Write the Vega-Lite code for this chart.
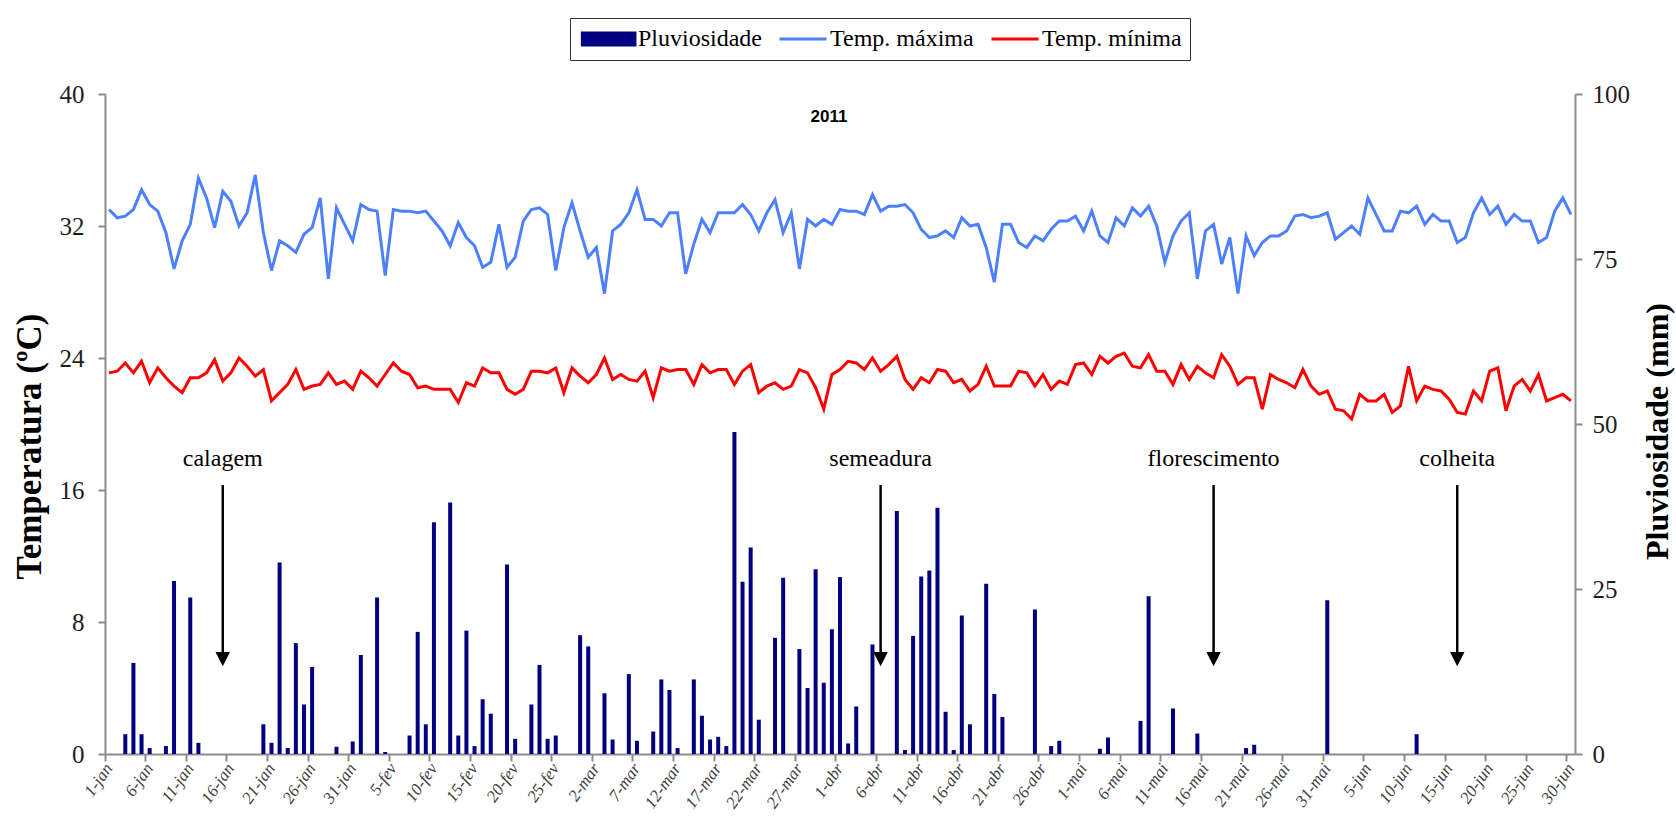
{
  "$schema": "https://vega.github.io/schema/vega-lite/v6.json",
  "width": 1470,
  "height": 660,
  "autosize": {"type": "none"},
  "padding": {"left": 105, "top": 94, "right": 101, "bottom": 62},
  "background": "#ffffff",
  "config": {
    "font": "Liberation Serif",
    "view": {"stroke": null},
    "axis": {
      "grid": false,
      "domainColor": "#8c8c8c",
      "domainWidth": 2,
      "tickColor": "#8c8c8c",
      "tickWidth": 2,
      "tickSize": 7,
      "labelColor": "#1e1e1e",
      "labelFont": "Liberation Serif",
      "titleFont": "Liberation Serif",
      "titleColor": "#000000"
    }
  },
  "title": {
    "text": "2011",
    "font": "Liberation Sans",
    "fontSize": 17,
    "fontWeight": "bold",
    "anchor": "middle",
    "offset": -108,
    "dx": -11,
    "color": "#000000"
  },
  "datasets": {
    "clima": [
      {"dia": "1-jan", "chuva": 0, "tmax": 33.0, "tmin": 23.1},
      {"dia": "2-jan", "chuva": 0, "tmax": 32.5, "tmin": 23.2},
      {"dia": "3-jan", "chuva": 3.0, "tmax": 32.6, "tmin": 23.7},
      {"dia": "4-jan", "chuva": 13.8, "tmax": 33.0, "tmin": 23.1},
      {"dia": "5-jan", "chuva": 3.0, "tmax": 34.2, "tmin": 23.8},
      {"dia": "6-jan", "chuva": 0.9, "tmax": 33.3, "tmin": 22.5},
      {"dia": "7-jan", "chuva": 0, "tmax": 32.9, "tmin": 23.4},
      {"dia": "8-jan", "chuva": 1.2, "tmax": 31.6, "tmin": 22.8},
      {"dia": "9-jan", "chuva": 26.2, "tmax": 29.4, "tmin": 22.3},
      {"dia": "10-jan", "chuva": 0, "tmax": 31.1, "tmin": 21.9},
      {"dia": "11-jan", "chuva": 23.7, "tmax": 32.1, "tmin": 22.8},
      {"dia": "12-jan", "chuva": 1.7, "tmax": 34.9, "tmin": 22.8},
      {"dia": "13-jan", "chuva": 0, "tmax": 33.7, "tmin": 23.1},
      {"dia": "14-jan", "chuva": 0, "tmax": 31.9, "tmin": 23.9},
      {"dia": "15-jan", "chuva": 0, "tmax": 34.1, "tmin": 22.6, "evento": "calagem"},
      {"dia": "16-jan", "chuva": 0, "tmax": 33.5, "tmin": 23.1},
      {"dia": "17-jan", "chuva": 0, "tmax": 32.0, "tmin": 24.0},
      {"dia": "18-jan", "chuva": 0, "tmax": 32.8, "tmin": 23.5},
      {"dia": "19-jan", "chuva": 0, "tmax": 35.1, "tmin": 22.9},
      {"dia": "20-jan", "chuva": 4.5, "tmax": 31.6, "tmin": 23.3},
      {"dia": "21-jan", "chuva": 1.7, "tmax": 29.3, "tmin": 21.4},
      {"dia": "22-jan", "chuva": 29.0, "tmax": 31.1, "tmin": 21.9},
      {"dia": "23-jan", "chuva": 0.9, "tmax": 30.8, "tmin": 22.4},
      {"dia": "24-jan", "chuva": 16.8, "tmax": 30.4, "tmin": 23.3},
      {"dia": "25-jan", "chuva": 7.5, "tmax": 31.5, "tmin": 22.1},
      {"dia": "26-jan", "chuva": 13.2, "tmax": 31.9, "tmin": 22.3},
      {"dia": "27-jan", "chuva": 0, "tmax": 33.7, "tmin": 22.4},
      {"dia": "28-jan", "chuva": 0, "tmax": 28.8, "tmin": 23.1},
      {"dia": "29-jan", "chuva": 1.1, "tmax": 33.1, "tmin": 22.4},
      {"dia": "30-jan", "chuva": 0, "tmax": 32.1, "tmin": 22.6},
      {"dia": "31-jan", "chuva": 1.9, "tmax": 31.1, "tmin": 22.1},
      {"dia": "1-fev", "chuva": 15.0, "tmax": 33.3, "tmin": 23.2},
      {"dia": "2-fev", "chuva": 0, "tmax": 33.0, "tmin": 22.8},
      {"dia": "3-fev", "chuva": 23.7, "tmax": 32.9, "tmin": 22.3},
      {"dia": "4-fev", "chuva": 0.3, "tmax": 29.0, "tmin": 23.0},
      {"dia": "5-fev", "chuva": 0, "tmax": 33.0, "tmin": 23.7},
      {"dia": "6-fev", "chuva": 0, "tmax": 32.9, "tmin": 23.2},
      {"dia": "7-fev", "chuva": 2.8, "tmax": 32.9, "tmin": 23.0},
      {"dia": "8-fev", "chuva": 18.5, "tmax": 32.8, "tmin": 22.2},
      {"dia": "9-fev", "chuva": 4.5, "tmax": 32.9, "tmin": 22.3},
      {"dia": "10-fev", "chuva": 35.1, "tmax": 32.3, "tmin": 22.1},
      {"dia": "11-fev", "chuva": 0, "tmax": 31.7, "tmin": 22.1},
      {"dia": "12-fev", "chuva": 38.1, "tmax": 30.8, "tmin": 22.1},
      {"dia": "13-fev", "chuva": 2.8, "tmax": 32.2, "tmin": 21.3},
      {"dia": "14-fev", "chuva": 18.7, "tmax": 31.3, "tmin": 22.5},
      {"dia": "15-fev", "chuva": 1.2, "tmax": 30.8, "tmin": 22.3},
      {"dia": "16-fev", "chuva": 8.3, "tmax": 29.5, "tmin": 23.4},
      {"dia": "17-fev", "chuva": 6.1, "tmax": 29.8, "tmin": 23.1},
      {"dia": "18-fev", "chuva": 0, "tmax": 32.1, "tmin": 23.1},
      {"dia": "19-fev", "chuva": 28.7, "tmax": 29.5, "tmin": 22.1},
      {"dia": "20-fev", "chuva": 2.3, "tmax": 30.1, "tmin": 21.8},
      {"dia": "21-fev", "chuva": 0, "tmax": 32.3, "tmin": 22.1},
      {"dia": "22-fev", "chuva": 7.5, "tmax": 33.0, "tmin": 23.2},
      {"dia": "23-fev", "chuva": 13.5, "tmax": 33.1, "tmin": 23.2},
      {"dia": "24-fev", "chuva": 2.3, "tmax": 32.7, "tmin": 23.1},
      {"dia": "25-fev", "chuva": 2.8, "tmax": 29.3, "tmin": 23.4},
      {"dia": "26-fev", "chuva": 0, "tmax": 31.9, "tmin": 21.9},
      {"dia": "27-fev", "chuva": 0, "tmax": 33.4, "tmin": 23.4},
      {"dia": "28-fev", "chuva": 18.0, "tmax": 31.7, "tmin": 22.9},
      {"dia": "1-mar", "chuva": 16.3, "tmax": 30.1, "tmin": 22.5},
      {"dia": "2-mar", "chuva": 0, "tmax": 30.7, "tmin": 23.0},
      {"dia": "3-mar", "chuva": 9.2, "tmax": 27.9, "tmin": 24.0},
      {"dia": "4-mar", "chuva": 2.2, "tmax": 31.7, "tmin": 22.7},
      {"dia": "5-mar", "chuva": 0, "tmax": 32.1, "tmin": 23.0},
      {"dia": "6-mar", "chuva": 12.1, "tmax": 32.8, "tmin": 22.7},
      {"dia": "7-mar", "chuva": 2.0, "tmax": 34.2, "tmin": 22.6},
      {"dia": "8-mar", "chuva": 0, "tmax": 32.4, "tmin": 23.2},
      {"dia": "9-mar", "chuva": 3.4, "tmax": 32.4, "tmin": 21.6},
      {"dia": "10-mar", "chuva": 11.3, "tmax": 32.0, "tmin": 23.4},
      {"dia": "11-mar", "chuva": 9.7, "tmax": 32.8, "tmin": 23.2},
      {"dia": "12-mar", "chuva": 0.9, "tmax": 32.8, "tmin": 23.3},
      {"dia": "13-mar", "chuva": 0, "tmax": 29.1, "tmin": 23.3},
      {"dia": "14-mar", "chuva": 11.3, "tmax": 30.9, "tmin": 22.4},
      {"dia": "15-mar", "chuva": 5.8, "tmax": 32.4, "tmin": 23.6},
      {"dia": "16-mar", "chuva": 2.2, "tmax": 31.6, "tmin": 23.1},
      {"dia": "17-mar", "chuva": 2.6, "tmax": 32.8, "tmin": 23.3},
      {"dia": "18-mar", "chuva": 1.2, "tmax": 32.8, "tmin": 23.3},
      {"dia": "19-mar", "chuva": 48.8, "tmax": 32.8, "tmin": 22.4},
      {"dia": "20-mar", "chuva": 26.1, "tmax": 33.3, "tmin": 23.2},
      {"dia": "21-mar", "chuva": 31.3, "tmax": 32.7, "tmin": 23.6},
      {"dia": "22-mar", "chuva": 5.2, "tmax": 31.7, "tmin": 21.9},
      {"dia": "23-mar", "chuva": 0, "tmax": 32.8, "tmin": 22.3},
      {"dia": "24-mar", "chuva": 17.6, "tmax": 33.6, "tmin": 22.5},
      {"dia": "25-mar", "chuva": 26.7, "tmax": 31.6, "tmin": 22.1},
      {"dia": "26-mar", "chuva": 0, "tmax": 32.8, "tmin": 22.3},
      {"dia": "27-mar", "chuva": 15.9, "tmax": 29.4, "tmin": 23.3},
      {"dia": "28-mar", "chuva": 10.0, "tmax": 32.4, "tmin": 23.1},
      {"dia": "29-mar", "chuva": 28.0, "tmax": 32.0, "tmin": 22.2},
      {"dia": "30-mar", "chuva": 10.8, "tmax": 32.4, "tmin": 20.9},
      {"dia": "31-mar", "chuva": 18.9, "tmax": 32.1, "tmin": 23.0},
      {"dia": "1-abr", "chuva": 26.8, "tmax": 33.0, "tmin": 23.3},
      {"dia": "2-abr", "chuva": 1.6, "tmax": 32.9, "tmin": 23.8},
      {"dia": "3-abr", "chuva": 7.2, "tmax": 32.9, "tmin": 23.7},
      {"dia": "4-abr", "chuva": 0, "tmax": 32.7, "tmin": 23.3},
      {"dia": "5-abr", "chuva": 16.6, "tmax": 33.9, "tmin": 24.0},
      {"dia": "6-abr", "chuva": 0, "tmax": 32.9, "tmin": 23.2, "evento": "semeadura"},
      {"dia": "7-abr", "chuva": 0, "tmax": 33.2, "tmin": 23.6},
      {"dia": "8-abr", "chuva": 36.8, "tmax": 33.2, "tmin": 24.1},
      {"dia": "9-abr", "chuva": 0.6, "tmax": 33.3, "tmin": 22.7},
      {"dia": "10-abr", "chuva": 17.9, "tmax": 32.8, "tmin": 22.1},
      {"dia": "11-abr", "chuva": 26.9, "tmax": 31.8, "tmin": 22.8},
      {"dia": "12-abr", "chuva": 27.8, "tmax": 31.3, "tmin": 22.5},
      {"dia": "13-abr", "chuva": 37.3, "tmax": 31.4, "tmin": 23.3},
      {"dia": "14-abr", "chuva": 6.4, "tmax": 31.7, "tmin": 23.2},
      {"dia": "15-abr", "chuva": 0.6, "tmax": 31.3, "tmin": 22.5},
      {"dia": "16-abr", "chuva": 21.0, "tmax": 32.5, "tmin": 22.7},
      {"dia": "17-abr", "chuva": 4.5, "tmax": 32.0, "tmin": 22.0},
      {"dia": "18-abr", "chuva": 0, "tmax": 32.1, "tmin": 22.4},
      {"dia": "19-abr", "chuva": 25.8, "tmax": 30.7, "tmin": 23.5},
      {"dia": "20-abr", "chuva": 9.1, "tmax": 28.6, "tmin": 22.3},
      {"dia": "21-abr", "chuva": 5.6, "tmax": 32.1, "tmin": 22.3},
      {"dia": "22-abr", "chuva": 0, "tmax": 32.1, "tmin": 22.3},
      {"dia": "23-abr", "chuva": 0, "tmax": 31.0, "tmin": 23.2},
      {"dia": "24-abr", "chuva": 0, "tmax": 30.7, "tmin": 23.1},
      {"dia": "25-abr", "chuva": 21.9, "tmax": 31.4, "tmin": 22.3},
      {"dia": "26-abr", "chuva": 0, "tmax": 31.1, "tmin": 23.0},
      {"dia": "27-abr", "chuva": 1.2, "tmax": 31.8, "tmin": 22.1},
      {"dia": "28-abr", "chuva": 2.0, "tmax": 32.3, "tmin": 22.6},
      {"dia": "29-abr", "chuva": 0, "tmax": 32.3, "tmin": 22.4},
      {"dia": "30-abr", "chuva": 0, "tmax": 32.6, "tmin": 23.6},
      {"dia": "1-mai", "chuva": 0, "tmax": 31.7, "tmin": 23.7},
      {"dia": "2-mai", "chuva": 0, "tmax": 32.9, "tmin": 23.0},
      {"dia": "3-mai", "chuva": 0.8, "tmax": 31.4, "tmin": 24.1},
      {"dia": "4-mai", "chuva": 2.5, "tmax": 31.0, "tmin": 23.7},
      {"dia": "5-mai", "chuva": 0, "tmax": 32.5, "tmin": 24.1},
      {"dia": "6-mai", "chuva": 0, "tmax": 32.0, "tmin": 24.3},
      {"dia": "7-mai", "chuva": 0, "tmax": 33.1, "tmin": 23.5},
      {"dia": "8-mai", "chuva": 5.0, "tmax": 32.6, "tmin": 23.4},
      {"dia": "9-mai", "chuva": 23.9, "tmax": 33.2, "tmin": 24.2},
      {"dia": "10-mai", "chuva": 0, "tmax": 32.0, "tmin": 23.2},
      {"dia": "11-mai", "chuva": 0, "tmax": 29.8, "tmin": 23.2},
      {"dia": "12-mai", "chuva": 6.9, "tmax": 31.4, "tmin": 22.4},
      {"dia": "13-mai", "chuva": 0, "tmax": 32.3, "tmin": 23.6},
      {"dia": "14-mai", "chuva": 0, "tmax": 32.8, "tmin": 22.7},
      {"dia": "15-mai", "chuva": 3.1, "tmax": 28.8, "tmin": 23.5},
      {"dia": "16-mai", "chuva": 0, "tmax": 31.7, "tmin": 23.1},
      {"dia": "17-mai", "chuva": 0, "tmax": 32.1, "tmin": 22.8, "evento": "florescimento"},
      {"dia": "18-mai", "chuva": 0, "tmax": 29.7, "tmin": 24.2},
      {"dia": "19-mai", "chuva": 0, "tmax": 31.3, "tmin": 23.5},
      {"dia": "20-mai", "chuva": 0, "tmax": 27.9, "tmin": 22.4},
      {"dia": "21-mai", "chuva": 0.9, "tmax": 31.4, "tmin": 22.8},
      {"dia": "22-mai", "chuva": 1.4, "tmax": 30.2, "tmin": 22.8},
      {"dia": "23-mai", "chuva": 0, "tmax": 31.0, "tmin": 20.9},
      {"dia": "24-mai", "chuva": 0, "tmax": 31.4, "tmin": 23.0},
      {"dia": "25-mai", "chuva": 0, "tmax": 31.4, "tmin": 22.7},
      {"dia": "26-mai", "chuva": 0, "tmax": 31.7, "tmin": 22.5},
      {"dia": "27-mai", "chuva": 0, "tmax": 32.6, "tmin": 22.2},
      {"dia": "28-mai", "chuva": 0, "tmax": 32.7, "tmin": 23.3},
      {"dia": "29-mai", "chuva": 0, "tmax": 32.5, "tmin": 22.3},
      {"dia": "30-mai", "chuva": 0, "tmax": 32.6, "tmin": 21.8},
      {"dia": "31-mai", "chuva": 23.3, "tmax": 32.8, "tmin": 22.0},
      {"dia": "1-jun", "chuva": 0, "tmax": 31.2, "tmin": 20.9},
      {"dia": "2-jun", "chuva": 0, "tmax": 31.6, "tmin": 20.8},
      {"dia": "3-jun", "chuva": 0, "tmax": 32.0, "tmin": 20.3},
      {"dia": "4-jun", "chuva": 0, "tmax": 31.5, "tmin": 21.8},
      {"dia": "5-jun", "chuva": 0, "tmax": 33.7, "tmin": 21.4},
      {"dia": "6-jun", "chuva": 0, "tmax": 32.7, "tmin": 21.4},
      {"dia": "7-jun", "chuva": 0, "tmax": 31.7, "tmin": 21.8},
      {"dia": "8-jun", "chuva": 0, "tmax": 31.7, "tmin": 20.7},
      {"dia": "9-jun", "chuva": 0, "tmax": 32.9, "tmin": 21.1},
      {"dia": "10-jun", "chuva": 0, "tmax": 32.8, "tmin": 23.5},
      {"dia": "11-jun", "chuva": 3.0, "tmax": 33.2, "tmin": 21.4},
      {"dia": "12-jun", "chuva": 0, "tmax": 32.1, "tmin": 22.3},
      {"dia": "13-jun", "chuva": 0, "tmax": 32.7, "tmin": 22.1},
      {"dia": "14-jun", "chuva": 0, "tmax": 32.3, "tmin": 22.0},
      {"dia": "15-jun", "chuva": 0, "tmax": 32.3, "tmin": 21.5},
      {"dia": "16-jun", "chuva": 0, "tmax": 31.0, "tmin": 20.7, "evento": "colheita"},
      {"dia": "17-jun", "chuva": 0, "tmax": 31.3, "tmin": 20.6},
      {"dia": "18-jun", "chuva": 0, "tmax": 32.8, "tmin": 22.0},
      {"dia": "19-jun", "chuva": 0, "tmax": 33.7, "tmin": 21.4},
      {"dia": "20-jun", "chuva": 0, "tmax": 32.7, "tmin": 23.2},
      {"dia": "21-jun", "chuva": 0, "tmax": 33.2, "tmin": 23.4},
      {"dia": "22-jun", "chuva": 0, "tmax": 32.1, "tmin": 20.8},
      {"dia": "23-jun", "chuva": 0, "tmax": 32.7, "tmin": 22.3},
      {"dia": "24-jun", "chuva": 0, "tmax": 32.3, "tmin": 22.7},
      {"dia": "25-jun", "chuva": 0, "tmax": 32.3, "tmin": 22.0},
      {"dia": "26-jun", "chuva": 0, "tmax": 31.0, "tmin": 23.0},
      {"dia": "27-jun", "chuva": 0, "tmax": 31.3, "tmin": 21.4},
      {"dia": "28-jun", "chuva": 0, "tmax": 32.9, "tmin": 21.6},
      {"dia": "29-jun", "chuva": 0, "tmax": 33.7, "tmin": 21.8},
      {"dia": "30-jun", "chuva": 0, "tmax": 32.7, "tmin": 21.4}
    ]
  },
  "data": {"name": "clima"},
  "encoding": {
    "x": {
      "field": "dia",
      "type": "ordinal",
      "sort": null,
      "scale": {"paddingInner": 0, "paddingOuter": 0},
      "axis": {
        "title": null,
        "orient": "bottom",
        "bandPosition": 0,
        "values": ["1-jan", "6-jan", "11-jan", "16-jan", "21-jan", "26-jan", "31-jan", "5-fev", "10-fev", "15-fev", "20-fev", "25-fev", "2-mar", "7-mar", "12-mar", "17-mar", "22-mar", "27-mar", "1-abr", "6-abr", "11-abr", "16-abr", "21-abr", "26-abr", "1-mai", "6-mai", "11-mai", "16-mai", "21-mai", "26-mai", "31-mai", "5-jun", "10-jun", "15-jun", "20-jun", "25-jun", "30-jun"],
        "labelAngle": -55,
        "labelFontSize": 17,
        "labelFontStyle": "italic",
        "labelColor": "#404040",
        "labelPadding": 4,
        "labelOverlap": false
      }
    }
  },
  "layer": [
    {
      "layer": [
        {
          "mark": {"type": "bar", "width": 4},
          "encoding": {
            "y": {
              "field": "chuva",
              "type": "quantitative",
              "scale": {"domain": [0, 100], "nice": false},
              "axis": {
                "orient": "right",
                "values": [0, 25, 50, 75, 100],
                "title": "Pluviosidade (mm)",
                "titleFontSize": 32,
                "titleFontWeight": "bold",
                "titleAngle": 270,
                "titlePadding": 45,
                "titleY": 337,
                "labelFontSize": 25,
                "labelPadding": 10
              }
            },
            "color": {
              "datum": "Pluviosidade",
              "scale": {
                "domain": ["Pluviosidade", "Temp. máxima", "Temp. mínima"],
                "range": ["#000080", "#4d80ff", "#ff0000"]
              },
              "legend": {
                "title": null,
                "orient": "none",
                "legendX": 465,
                "legendY": -76,
                "direction": "horizontal",
                "labelFont": "Liberation Serif",
                "labelFontSize": 24,
                "labelColor": "#000000",
                "labelOffset": 2,
                "symbolOffset": 8,
                "symbolSize": 2209,
                "symbolStrokeWidth": 3,
                "clipHeight": 26,
                "columnPadding": 8,
                "padding": 8,
                "strokeColor": "#333333",
                "encode": {
                  "symbols": {
                    "update": {
                      "shape": {"signal": "datum.value === 'Pluviosidade' ? 'M-1.22,-0.255H1.02V0.255H-1.22Z' : 'stroke'"},
                      "fill": {"signal": "datum.value === 'Pluviosidade' ? '#000080' : 'transparent'"},
                      "stroke": {"signal": "datum.value === 'Pluviosidade' ? '#000080' : (datum.value === 'Temp. máxima' ? '#4d80ff' : '#ff0000')"},
                      "opacity": {"value": 1}
                    }
                  }
                }
              }
            }
          }
        }
      ]
    },
    {
      "layer": [
        {
          "mark": {"type": "line", "strokeWidth": 3},
          "encoding": {
            "y": {
              "field": "tmax",
              "type": "quantitative",
              "scale": {"domain": [0, 40], "nice": false},
              "axis": {
                "orient": "left",
                "values": [0, 8, 16, 24, 32, 40],
                "title": "Temperatura (ºC)",
                "titleFontSize": 35,
                "titleFontWeight": "bold",
                "titlePadding": 12,
                "titleY": 352,
                "labelFontSize": 25,
                "labelPadding": 14
              }
            },
            "color": {"datum": "Temp. máxima"}
          }
        },
        {
          "mark": {"type": "line", "strokeWidth": 3},
          "encoding": {
            "y": {"field": "tmin", "type": "quantitative"},
            "color": {"datum": "Temp. mínima"}
          }
        },
        {
          "transform": [{"filter": "isValid(datum.evento)"}],
          "mark": {"type": "rule", "strokeWidth": 2.5, "color": "#000000"},
          "encoding": {
            "y": {"datum": 16.3, "type": "quantitative"},
            "y2": {"datum": 6.1}
          }
        },
        {
          "transform": [{"filter": "isValid(datum.evento)"}],
          "mark": {"type": "point", "shape": "M-1,-1L1,-1L0,1Z", "filled": true, "color": "#000000", "opacity": 1, "size": 210},
          "encoding": {
            "y": {"datum": 5.75, "type": "quantitative"}
          }
        },
        {
          "transform": [{"filter": "isValid(datum.evento)"}],
          "mark": {"type": "text", "font": "Liberation Serif", "fontSize": 24, "color": "#000000", "baseline": "middle", "align": "center"},
          "encoding": {
            "y": {"datum": 17.9, "type": "quantitative"},
            "text": {"field": "evento"}
          }
        }
      ]
    }
  ],
  "resolve": {"scale": {"y": "independent"}}
}
